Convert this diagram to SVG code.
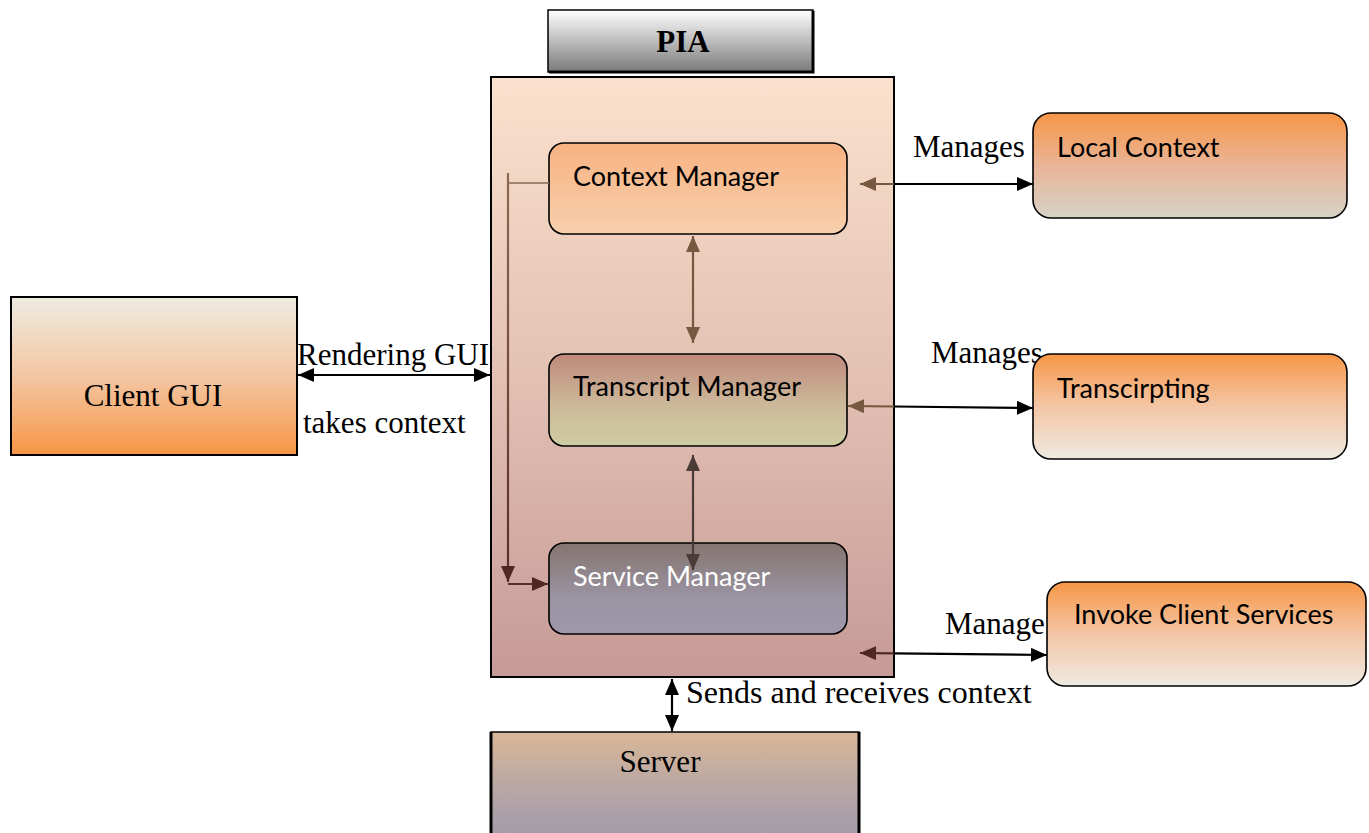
<svg xmlns="http://www.w3.org/2000/svg" width="1369" height="833" viewBox="0 0 1369 833">
  <defs>
    <style>
      .serif { font-family: "Liberation Serif", "Times New Roman", serif; font-size: 31px; fill: #000; }
      .sans { font-family: Lato, "Liberation Sans", sans-serif; font-size: 27px; fill: #000; }
      .box { stroke: #000; stroke-width: 1.6; }
      .wire { fill: none; stroke-width: 2.2; }
    </style>
    <linearGradient id="gTitle" x1="0" y1="0" x2="0" y2="1">
      <stop offset="0" stop-color="#ffffff"/>
      <stop offset="1" stop-color="#7a7a7a"/>
    </linearGradient>
    <linearGradient id="gPia" x1="0" y1="0" x2="0" y2="1">
      <stop offset="0" stop-color="#fbe1cd"/>
      <stop offset="0.5" stop-color="#e2c1b3"/>
      <stop offset="1" stop-color="#c69a97"/>
    </linearGradient>
    <linearGradient id="gCtx" x1="0" y1="0" x2="0" y2="1">
      <stop offset="0" stop-color="#f7b282"/>
      <stop offset="1" stop-color="#f8d0ad"/>
    </linearGradient>
    <linearGradient id="gTrn" x1="0" y1="0" x2="0" y2="1">
      <stop offset="0" stop-color="#bf887b"/>
      <stop offset="0.55" stop-color="#ccb99a"/>
      <stop offset="1" stop-color="#cfcca3"/>
    </linearGradient>
    <linearGradient id="gSvc" x1="0" y1="0" x2="0" y2="1">
      <stop offset="0" stop-color="#84756f"/>
      <stop offset="0.6" stop-color="#9a93a2"/>
      <stop offset="1" stop-color="#9f98a9"/>
    </linearGradient>
    <linearGradient id="gLocal" x1="0" y1="0" x2="0" y2="1">
      <stop offset="0" stop-color="#f79646"/>
      <stop offset="0.5" stop-color="#e9b497"/>
      <stop offset="1" stop-color="#d6d3c6"/>
    </linearGradient>
    <linearGradient id="gPeach" x1="0" y1="0" x2="0" y2="1">
      <stop offset="0" stop-color="#f79646"/>
      <stop offset="0.5" stop-color="#f4c6a6"/>
      <stop offset="1" stop-color="#eeeae0"/>
    </linearGradient>
    <linearGradient id="gClient" x1="0" y1="0" x2="0" y2="1">
      <stop offset="0" stop-color="#eeece1"/>
      <stop offset="0.5" stop-color="#f3c6a4"/>
      <stop offset="1" stop-color="#f79646"/>
    </linearGradient>
    <linearGradient id="gServer" x1="0" y1="0" x2="0" y2="1">
      <stop offset="0" stop-color="#d9b798"/>
      <stop offset="0.6" stop-color="#b3a4a6"/>
      <stop offset="1" stop-color="#a09aab"/>
    </linearGradient>
    <linearGradient id="gElbow" gradientUnits="userSpaceOnUse" x1="0" y1="175" x2="0" y2="590">
      <stop offset="0" stop-color="#8a6a55"/>
      <stop offset="1" stop-color="#5a2c26"/>
    </linearGradient>
    <marker id="aBlack" viewBox="0 0 16 14" refX="16" refY="7" markerWidth="16" markerHeight="14" markerUnits="userSpaceOnUse" orient="auto-start-reverse">
      <path d="M0,0 L16,7 L0,14 Z" fill="#000"/>
    </marker>
    <marker id="aBrown" viewBox="0 0 16 14" refX="16" refY="7" markerWidth="16" markerHeight="14" markerUnits="userSpaceOnUse" orient="auto-start-reverse">
      <path d="M0,0 L16,7 L0,14 Z" fill="#765740"/>
    </marker>
    <marker id="aDark" viewBox="0 0 16 14" refX="16" refY="7" markerWidth="16" markerHeight="14" markerUnits="userSpaceOnUse" orient="auto-start-reverse">
      <path d="M0,0 L16,7 L0,14 Z" fill="#4f2822"/>
    </marker>
    <marker id="aDarkGrey" viewBox="0 0 16 14" refX="16" refY="7" markerWidth="16" markerHeight="14" markerUnits="userSpaceOnUse" orient="auto-start-reverse">
      <path d="M0,0 L16,7 L0,14 Z" fill="#4a3a38"/>
    </marker>
  </defs>

  <rect width="1369" height="833" fill="#fff"/>

  <!-- PIA container -->
  <g id="pia">
    <rect x="491" y="77" width="403" height="600" fill="url(#gPia)" stroke="#000" stroke-width="2"/>
  </g>
  <g id="pia-title">
    <rect x="548" y="10" width="265" height="62" fill="url(#gTitle)" stroke="#000" stroke-width="1.5"/>
    <path d="M549,72 H813 V11" fill="none" stroke="#000" stroke-width="3"/>
    <text x="683" y="52" class="serif" font-weight="bold" text-anchor="middle">PIA</text>
  </g>

  <!-- labels that sit behind the right-hand boxes -->
  <g id="labels">
    <text x="913" y="157" class="serif">Manages</text>
    <text x="931" y="363" class="serif">Manages</text>
    <text x="945" y="634" class="serif">Manage</text>
    <text x="297" y="365" class="serif">Rendering GUI</text>
    <text x="303" y="433" class="serif">takes context</text>
    <text x="686" y="703" class="serif" style="font-size:32px">Sends and receives context</text>
  </g>

  <g id="context-manager">
    <rect x="549" y="143" width="298" height="91" rx="15" fill="url(#gCtx)" class="box"/>
    <text x="573" y="186" class="sans">Context Manager</text>
  </g>
  <g id="transcript-manager">
    <rect x="549" y="354" width="298" height="92" rx="15" fill="url(#gTrn)" class="box"/>
    <text x="573" y="396" class="sans">Transcript Manager</text>
  </g>
  <g id="service-manager">
    <rect x="549" y="543" width="298" height="91" rx="15" fill="url(#gSvc)" class="box"/>
    <text x="573" y="586" class="sans" style="fill:#fff">Service Manager</text>
  </g>

  <g id="local-context">
    <rect x="1033" y="113" width="314" height="105" rx="18" fill="url(#gLocal)" class="box"/>
    <text x="1057" y="157" class="sans">Local Context</text>
  </g>
  <g id="transcirpting">
    <rect x="1033" y="354" width="314" height="105" rx="18" fill="url(#gPeach)" class="box"/>
    <text x="1057" y="398" class="sans">Transcirpting</text>
  </g>
  <g id="invoke-client-services">
    <rect x="1047" y="582" width="319" height="104" rx="18" fill="url(#gPeach)" class="box"/>
    <text x="1074" y="624" class="sans">Invoke Client Services</text>
  </g>

  <g id="client-gui">
    <rect x="11" y="297" width="286" height="158" fill="url(#gClient)" stroke="#000" stroke-width="2"/>
    <text x="153" y="406" class="serif" text-anchor="middle">Client GUI</text>
  </g>

  <g id="server">
    <rect x="491" y="732" width="368" height="110" fill="url(#gServer)" stroke="#000" stroke-width="1.5"/>
    <path d="M491,732 V833 M859,732 V833" stroke="#000" stroke-width="3"/>
    <text x="660" y="772" class="serif" text-anchor="middle">Server</text>
  </g>

  <!-- connectors -->
  <g id="connectors">
    <!-- Client GUI <-> PIA -->
    <path d="M298,375 H490" class="wire" stroke="#000" marker-start="url(#aBlack)" marker-end="url(#aBlack)"/>
    <!-- Context Manager <-> Local Context -->
    <path d="M860,184 H894" class="wire" stroke="#765740" marker-start="url(#aBrown)"/>
    <path d="M894,184 H1033" class="wire" stroke="#000" marker-end="url(#aBlack)"/>
    <!-- Transcript Manager <-> Transcirpting -->
    <path d="M848,406 L894,406.5" class="wire" stroke="#765740" marker-start="url(#aBrown)"/>
    <path d="M894,406.5 L1033,408" class="wire" stroke="#000" marker-end="url(#aBlack)"/>
    <!-- Service Manager <-> Invoke Client Services -->
    <path d="M860,653 L894,653.3" class="wire" stroke="#4f2822" marker-start="url(#aDark)"/>
    <path d="M894,653.3 L1047,655" class="wire" stroke="#000" marker-end="url(#aBlack)"/>
    <!-- Context Manager <-> Transcript Manager -->
    <path d="M693,236 V343" class="wire" stroke="#765740" marker-start="url(#aBrown)" marker-end="url(#aBrown)"/>
    <!-- Transcript Manager <-> Service Manager -->
    <path d="M693,455 V570" class="wire" stroke="#4a3a38" marker-start="url(#aDarkGrey)" marker-end="url(#aDarkGrey)"/>
    <!-- Context Manager -> Service Manager elbow -->
    <path d="M549,183 H508" fill="none" stroke="#8a6a55" stroke-width="1.6"/>
    <path d="M508,173 V582" class="wire" stroke="url(#gElbow)" marker-end="url(#aDark)"/>
    <path d="M508,584 H548" class="wire" stroke="#5a2c26" marker-end="url(#aDark)"/>
    <!-- PIA <-> Server -->
    <path d="M672,679 V731" class="wire" stroke="#000" marker-start="url(#aBlack)" marker-end="url(#aBlack)"/>
  </g>
</svg>
